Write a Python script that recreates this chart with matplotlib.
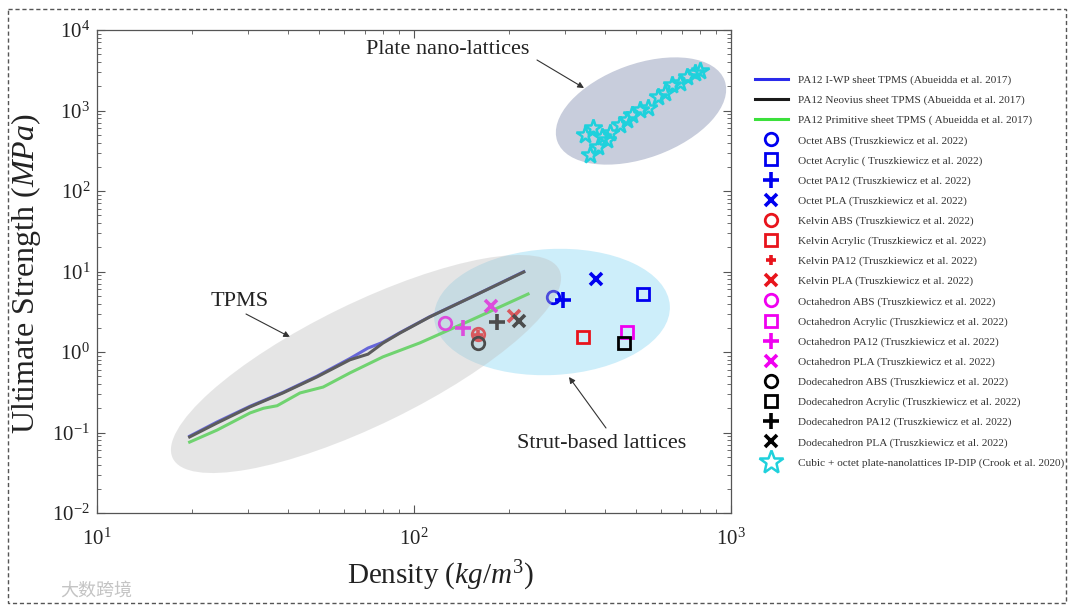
import matplotlib
matplotlib.use('Agg')
import matplotlib.pyplot as plt
from matplotlib.patches import Ellipse, Rectangle
from matplotlib.lines import Line2D
from matplotlib.transforms import Affine2D

plt.rcParams['font.family'] = ['Liberation Serif', 'DejaVu Serif']
plt.rcParams['mathtext.fontset'] = 'custom'
plt.rcParams['mathtext.rm'] = 'Liberation Serif'
plt.rcParams['mathtext.it'] = 'Liberation Serif:italic'
plt.rcParams['axes.unicode_minus'] = False

# TPMS sheet curves, PA12 (Abueidda et al. 2017)
iwp_density = [19.6, 23.9, 30.4, 38.6, 49.4, 62.8, 71.6, 79.8, 90.3, 112, 150, 222]
iwp_strength = [0.09, 0.135, 0.212, 0.315, 0.50, 0.83, 1.12, 1.32, 1.74, 2.74, 4.72, 9.95]
neovius_density = [19.6, 23.9, 30.4, 38.6, 49.4, 62.8, 71.6, 79.8, 90.3, 112, 150, 222]
neovius_strength = [0.088, 0.131, 0.208, 0.31, 0.49, 0.80, 0.94, 1.29, 1.72, 2.72, 4.7, 9.86]
primitive_density = [19.6, 23.9, 30.4, 33.5, 37.0, 43.7, 51.7, 62.8, 79.8, 104.5, 150, 229]
primitive_strength = [0.076, 0.107, 0.175, 0.20, 0.215, 0.31, 0.367, 0.55, 0.87, 1.3, 2.45, 5.25]

# strut lattices (Truszkiewicz et al. 2022), order: ABS, Acrylic, PA12, PLA
materials = ['ABS', 'Acrylic', 'PA12', 'PLA']
octet_density = [274, 528, 295, 375]
octet_strength = [4.82, 5.25, 4.43, 8.07]
kelvin_density = [159, 341, 159, 207]
kelvin_strength = [1.67, 1.54, 1.62, 2.8]
octahedron_density = [125, 470, 143, 175]
octahedron_strength = [2.29, 1.77, 1.99, 3.73]
dodeca_density = [159, 459, 183, 214]
dodeca_strength = [1.29, 1.29, 2.36, 2.43]

# plate nano-lattices IP-DIP (Crook et al. 2020)
plate_density = [346, 367, 392, 406, 380, 359, 415, 446, 470, 487, 517, 547,
                 589, 620, 652, 691, 727, 770, 798]
plate_strength = [497, 607, 469, 430, 352, 280, 525, 661, 762, 879, 1014, 1075,
                  1471, 1650, 2075, 2197, 2606, 2924, 3097]

W, H = 1080, 613
fig = plt.figure(figsize=(W / 100, H / 100), dpi=100)
ax = fig.add_axes([97 / W, 1 - 513 / H, 634 / W, 483 / H])
# image-pixel transform (y downwards) for the annotation shapes
pix = Affine2D().scale(1.0 / W, -1.0 / H).translate(0, 1) + fig.transFigure

ax.plot(iwp_density, iwp_strength, color='#2b2bea', lw=2.2, zorder=3,
        label='PA12 I-WP sheet TPMS (Abueidda et al. 2017)')
ax.plot(neovius_density, neovius_strength, color='#1a1a1a', lw=2.2, zorder=3,
        label='PA12 Neovius sheet TPMS (Abueidda et al. 2017)')
ax.plot(primitive_density, primitive_strength, color='#3ce03c', lw=2.2, zorder=3,
        label='PA12 Primitive sheet TPMS ( Abueidda et al. 2017)')

marker_for = {'ABS': 'o', 'Acrylic': 's', 'PA12': '+', 'PLA': 'x'}
groups = [('Octet', '#0000f0', octet_density, octet_strength),
          ('Kelvin', '#e8141c', kelvin_density, kelvin_strength),
          ('Octahedron', '#f000f0', octahedron_density, octahedron_strength),
          ('Dodecahedron', '#000000', dodeca_density, dodeca_strength)]
for name, col, dens, stren in groups:
    for m, d, s in zip(materials, dens, stren):
        mk = marker_for[m]
        sp = ' ( ' if (name == 'Octet' and m == 'Acrylic') else ' ('
        ms = 11 if mk == '+' else 9
        if name == 'Kelvin' and m == 'PA12':
            ms = 7
        ax.plot([d], [s], ls='none', marker=mk, ms=ms, mfc='none', mec=col,
                mew=2.6 if mk in '+x' else 2.0, zorder=4,
                label=name + ' ' + m + sp + 'Truszkiewicz et al. 2022)')

ax.plot(plate_density, plate_strength, ls='none', marker='*', ms=13,
        mfc='none', mec='#1fd1dc', mew=1.8, zorder=4)

# region shading
ax.add_patch(Ellipse((552, 312), 236, 126, angle=-3, transform=pix,
                     fc='#cdeefa', ec='none', zorder=1))
ax.add_patch(Ellipse((641, 111), 178, 94, angle=-20, transform=pix,
                     fc='#c8cddc', ec='none', zorder=1))
ax.add_patch(Ellipse((366, 364), 430, 122, angle=-26, transform=pix,
                     fc='#c0c0c0', ec='none', alpha=0.4, zorder=5))

arrow = dict(arrowstyle='-|>', color='#333333', lw=0.8, mutation_scale=9,
             shrinkA=0, shrinkB=0)
ax.annotate('', xy=(584, 88), xycoords=pix, xytext=(537, 60), textcoords=pix,
            arrowprops=arrow)
ax.annotate('', xy=(290, 337), xycoords=pix, xytext=(246, 314), textcoords=pix,
            arrowprops=arrow)
ax.annotate('', xy=(569, 377), xycoords=pix, xytext=(606, 428), textcoords=pix,
            arrowprops=arrow)
ax.text(448, 50, 'Plate nano-lattices', transform=pix, ha='center',
        va='center', fontsize=16, color='#222222', zorder=6)
ax.text(240, 302, 'TPMS', transform=pix, ha='center', va='center',
        fontsize=16, color='#222222', zorder=6)
ax.text(602, 443, 'Strut-based lattices', transform=pix, ha='center',
        va='center', fontsize=16, color='#222222', zorder=6)

ax.set_xscale('log')
ax.set_yscale('log')
ax.set_xlim(10, 1000)
ax.set_ylim(1e-2, 1e4)
ax.tick_params(which='both', direction='in', top=True, right=True,
               color='#555555', labelcolor='#222222')
ax.tick_params(which='major', length=6, labelsize=15)
ax.tick_params(which='minor', length=3)
ax.tick_params(axis='x', pad=11)
ax.tick_params(axis='y', pad=5)
for sp in ax.spines.values():
    sp.set_color('#555555')
    sp.set_linewidth(0.9)

ax.set_xlabel(r'Density ($kg/m^3$)', fontsize=21, color='#222222')
ax.set_ylabel(r'Ultimate Strength ($MPa$)', fontsize=23, color='#222222')
ax.xaxis.set_label_coords(0.541, -0.095)
ax.yaxis.set_label_coords(-0.085, 0.495)

handles, labels = ax.get_legend_handles_labels()
handles.append(Line2D([], [], ls='none', marker='*', ms=18, mfc='none',
                      mec='#1fd1dc', mew=1.8))
labels.append('Cubic + octet plate-nanolattices IP-DIP (Crook et al. 2020)')
leg = fig.legend(handles, labels, loc='upper left',
                 bbox_to_anchor=(755 / W, 1 - 75 / H), frameon=False,
                 fontsize=8.1, labelspacing=0.89, handlelength=2.93,
                 handletextpad=0.9, borderpad=0, borderaxespad=0)
for t in leg.get_texts():
    t.set_color('#333333')

fig.add_artist(Rectangle((8, 9), 1058, 594, transform=pix, fill=False,
                         ec='#555555', lw=1.0, ls=(0, (3, 2))))
fig.text(60, 591, '大数跨境', transform=pix, ha='left', va='center',
         fontsize=13, color='#c4c4c4', family=['Noto Sans CJK SC', 'DejaVu Sans'])

fig.savefig('out.png', dpi=100)
